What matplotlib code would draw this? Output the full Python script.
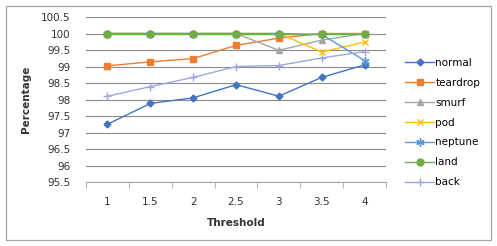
import numpy as np
import matplotlib.pyplot as plt
from matplotlib.patches import FancyBboxPatch

thresholds = ["1", "1.5", "2", "2.5", "3", "3.5", "4"]
normal = [97.25, 97.88, 98.05, 98.45, 98.1, 98.67, 99.05]
teardrop = [99.02, 99.14, 99.24, 99.64, 99.86, 100, 100]
smurf = [100, 100, 100, 100, 99.49, 99.8, 100]
pod = [100, 100, 100, 100, 100, 99.44, 99.74]
neptune = [100, 100, 100, 100, 100, 99.97, 99.18]
land = [100, 100, 100, 100, 100, 100, 100]
back = [98.1, 98.39, 98.67, 99.0, 99.03, 99.26, 99.45]

fig = plt.figure(figsize=(4.97, 2.46), dpi=100)
ax = fig.add_axes([86/497, 1-182/246, 300/497, 165/246])

# outer frame
fig.patches.append(FancyBboxPatch((6/497, 6/246), 485/497, 234/246,
                                  boxstyle="square,pad=0", transform=fig.transFigure,
                                  fill=False, edgecolor="#a6a6a6", lw=0.9))

x = np.arange(len(thresholds))
series = [
    ("normal", normal, "#4472c4", "D", 3.5),
    ("teardrop", teardrop, "#ed7d31", "s", 5),
    ("smurf", smurf, "#a5a5a5", "^", 5),
    ("pod", pod, "#ffc000", "x", 5),
    ("neptune", neptune, "#5b9bd5", (6, 2, 0), 6),
    ("land", land, "#70ad47", "o", 5),
    ("back", back, "#9ea7e0", "+", 6),
]
for name, vals, col, mk, ms in series:
    ax.plot(x, vals, color=col, marker=mk, markersize=ms, lw=1.0,
            markeredgewidth=1.0, label=name)

ax.set_xlim(-0.5, len(thresholds) - 0.5)
ax.set_ylim(95.5, 100.5)
ax.set_yticks(np.arange(95.5, 100.51, 0.5))
ax.set_yticklabels(["95.5", "96", "96.5", "97", "97.5", "98", "98.5", "99", "99.5", "100", "100.5"])
ax.set_xticks(x)
ax.set_xticklabels(thresholds)
ax.set_xticks(np.arange(-0.5, len(thresholds), 1), minor=True)
ax.tick_params(axis="x", which="major", length=0, pad=11, labelsize=7.5, colors="#333333")
ax.tick_params(axis="x", which="minor", length=4, color="#a6a6a6", direction="out")
ax.tick_params(axis="y", length=0, pad=11, labelsize=7.5, colors="#333333")
ax.yaxis.grid(True, color="#8c8c8c", lw=0.8)
ax.set_axisbelow(True)
for s in ["top", "right", "left"]:
    ax.spines[s].set_visible(False)
ax.spines["bottom"].set_color("#a6a6a6")

ax.set_xlabel("Threshold", fontsize=7.5, fontweight="bold", color="#333333", labelpad=8)
ax.set_ylabel("Percentage", fontsize=7.5, fontweight="bold", color="#333333", labelpad=7)

ax.legend(loc="center left", bbox_to_anchor=(1.05, 0.36), frameon=False, fontsize=7.5,
          handlelength=2.8, labelspacing=0.95, handletextpad=0.1, borderaxespad=0)

fig.savefig("out.png", dpi=100)
